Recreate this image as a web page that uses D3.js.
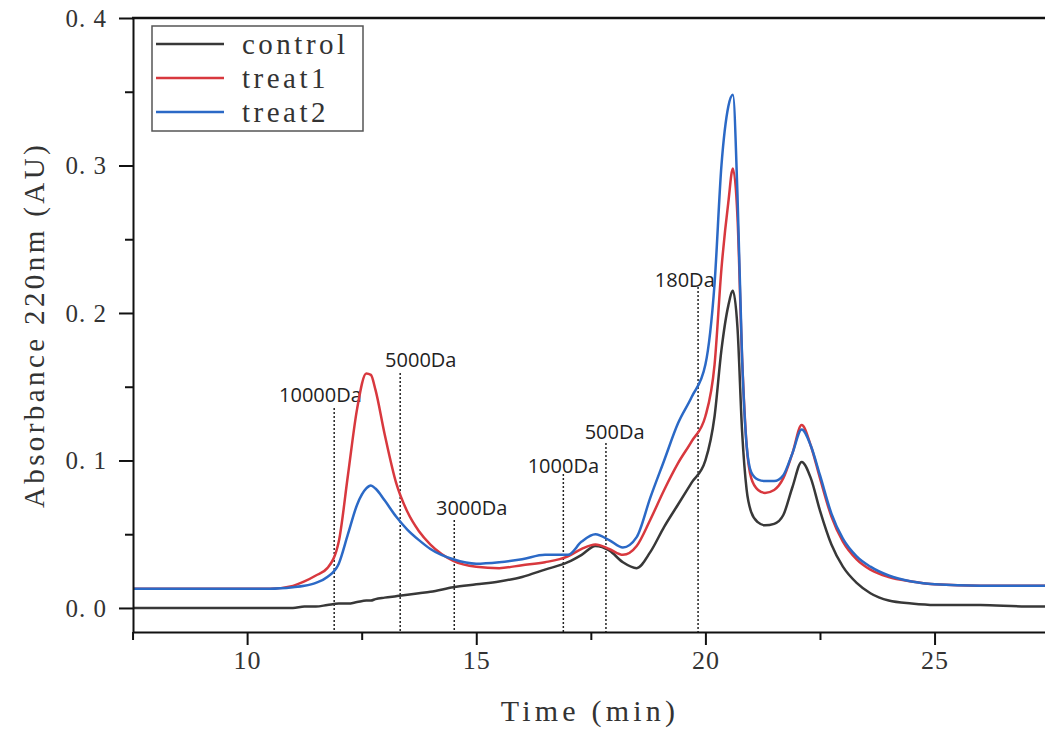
<!DOCTYPE html>
<html>
<head>
<meta charset="utf-8">
<script src="https://cdn.jsdelivr.net/npm/d3@7"></script>
<style>
	body { margin: 0; background: #fff; }
	svg { display: block; }
	.serif { font-family: 'Liberation Serif', 'DejaVu Serif', serif; fill: #333; }
	.da { font-family: 'Open Sans', sans-serif; font-size: 20px; fill: #222; }
	.axis path, .axis line { stroke: #111; stroke-width: 2px; }
</style>
</head>
<body>
<div id="chart"></div>
<script>
// retention time (min)
const times = [7.5, 8, 9, 10, 10.5, 11, 11.25, 11.5, 11.75, 12, 12.2, 12.4, 12.6, 12.7, 12.8, 13, 13.25, 13.5, 13.75, 14,
	14.5, 15, 15.5, 16, 16.5, 17, 17.3, 17.6, 17.9, 18.2, 18.5, 18.8, 19.1, 19.4, 19.7, 20, 20.2, 20.35, 20.5, 20.6,
	20.7, 20.8, 20.9, 21, 21.15, 21.3, 21.5, 21.7, 21.9, 22.1, 22.3, 22.5, 22.75, 23, 23.3, 23.6, 24, 24.5, 25, 26, 27, 27.5];

const control = [0.000, 0.000, 0.000, 0.000, 0.000, 0.000, 0.001, 0.001, 0.002, 0.003, 0.003, 0.004, 0.005, 0.005, 0.006, 0.007, 0.008, 0.009, 0.010, 0.011,
	0.014, 0.016, 0.018, 0.021, 0.026, 0.031, 0.036, 0.042, 0.039, 0.031, 0.027, 0.038, 0.055, 0.070, 0.085, 0.100, 0.130, 0.175, 0.205, 0.215,
	0.190, 0.120, 0.080, 0.065, 0.058, 0.056, 0.057, 0.063, 0.082, 0.099, 0.088, 0.066, 0.043, 0.028, 0.017, 0.010, 0.005, 0.003, 0.002, 0.002, 0.001, 0.001];

const treat1 = [0.013, 0.013, 0.013, 0.013, 0.013, 0.015, 0.018, 0.022, 0.027, 0.045, 0.090, 0.135, 0.159, 0.158, 0.148, 0.118, 0.085, 0.065, 0.052, 0.043,
	0.032, 0.028, 0.027, 0.029, 0.031, 0.035, 0.040, 0.043, 0.040, 0.036, 0.042, 0.060, 0.080, 0.098, 0.113, 0.130, 0.165, 0.230, 0.275, 0.298,
	0.265, 0.170, 0.110, 0.088, 0.080, 0.078, 0.080, 0.088, 0.105, 0.124, 0.110, 0.088, 0.062, 0.045, 0.033, 0.026, 0.021, 0.018, 0.016, 0.015, 0.015, 0.015];

const treat2 = [0.013, 0.013, 0.013, 0.013, 0.013, 0.014, 0.015, 0.017, 0.021, 0.030, 0.050, 0.070, 0.081, 0.083, 0.081, 0.073, 0.062, 0.053, 0.046, 0.040,
	0.033, 0.030, 0.031, 0.033, 0.036, 0.036, 0.045, 0.050, 0.046, 0.041, 0.048, 0.075, 0.100, 0.125, 0.143, 0.165, 0.220, 0.300, 0.340, 0.348,
	0.280, 0.170, 0.110, 0.092, 0.087, 0.086, 0.086, 0.090, 0.105, 0.121, 0.110, 0.090, 0.064, 0.047, 0.035, 0.028, 0.022, 0.018, 0.016, 0.015, 0.015, 0.015];

const seriesNames = ['control', 'treat1', 'treat2'];
const seriesColors = ['#383838', '#d8383e', '#2b69c6'];

const xTicks = [10, 15, 20, 25];
const xMinorTicks = [7.5, 12.5, 17.5, 22.5];
const yTicks = [0, 0.1, 0.2, 0.3, 0.4];
const yMinorTicks = [0.05, 0.15, 0.25, 0.35];

// molecular weight markers
const daLabels = ['10000Da', '5000Da', '3000Da', '1000Da', '500Da', '180Da'];
const daTimes = [11.9, 13.34, 14.52, 16.9, 17.83, 19.84];
const daTops = [0.1356, 0.1593, 0.0597, 0.0908, 0.1119, 0.2176];
const daLabelTimes = [11.6, 13.79, 14.9, 16.9, 18.02, 19.55];
const daLabelLevels = [0.1397, 0.1634, 0.0631, 0.0915, 0.1146, 0.2176];

const width = 1045;
const height = 731;
const plot = {left: 133, right: 1045, top: 18, bottom: 632};

const svg = d3.select('#chart').append('svg')
	.attr('width', width)
	.attr('height', height);

const x = d3.scaleLinear()
	.domain([7.51, 27.41])
	.range([plot.left, plot.right]);

const y = d3.scaleLinear()
	.domain([-0.0163, 0.4])
	.range([plot.bottom, plot.top]);

svg.append('clipPath')
	.attr('id', 'clip')
	.append('rect')
	.attr('x', plot.left)
	.attr('y', plot.top)
	.attr('width', plot.right - plot.left)
	.attr('height', plot.bottom - plot.top);

// dotted marker lines + labels
const markers = svg.append('g');
daLabels.forEach((label, i) => {
	markers.append('line')
		.attr('x1', x(daTimes[i])).attr('x2', x(daTimes[i]))
		.attr('y1', y(daTops[i])).attr('y2', plot.bottom)
		.attr('stroke', '#222')
		.attr('stroke-width', 1.5)
		.attr('stroke-dasharray', '2,2');
	markers.append('text')
		.attr('class', 'da')
		.attr('x', x(daLabelTimes[i]))
		.attr('y', y(daLabelLevels[i]))
		.attr('text-anchor', 'middle')
		.text(label);
});

// curves
const allSeries = [control, treat1, treat2];
const line = d3.line()
	.x((d, i) => x(times[i]))
	.y(d => y(d))
	.curve(d3.curveMonotoneX);

svg.append('g')
	.attr('clip-path', 'url(#clip)')
	.selectAll('path')
	.data(allSeries)
	.enter()
	.append('path')
	.attr('fill', 'none')
	.attr('stroke', (d, i) => seriesColors[i])
	.attr('stroke-width', 2.5)
	.attr('stroke-linejoin', 'round')
	.attr('d', line);

// axes
const fmtY = d => d.toFixed(1).replace('.', '.\u00a0');

svg.append('g')
	.attr('class', 'axis')
	.attr('transform', `translate(0,${plot.bottom})`)
	.call(d3.axisBottom(x).tickValues(xTicks).tickSize(13).tickSizeOuter(0).tickPadding(6))
	.call(g => g.selectAll('text').attr('class', 'serif').style('font-size', '26px').style('letter-spacing', '1px').attr('fill', '#333'));

svg.append('g')
	.attr('class', 'axis')
	.attr('transform', `translate(0,${plot.bottom})`)
	.call(d3.axisBottom(x).tickValues(xMinorTicks).tickSize(8).tickSizeOuter(0).tickFormat(''))
	.call(g => g.select('.domain').remove());

svg.append('g')
	.attr('class', 'axis')
	.attr('transform', `translate(${plot.left},0)`)
	.call(d3.axisLeft(y).tickValues(yTicks).tickSize(14).tickSizeOuter(0).tickPadding(12).tickFormat(fmtY))
	.call(g => g.selectAll('text').attr('class', 'serif').style('font-size', '25px').style('letter-spacing', '1px').attr('fill', '#333').attr('dy', '0.34em'));

svg.append('g')
	.attr('class', 'axis')
	.attr('transform', `translate(${plot.left},0)`)
	.call(d3.axisLeft(y).tickValues(yMinorTicks).tickSize(8).tickSizeOuter(0).tickFormat(''))
	.call(g => g.select('.domain').remove());

// top frame line
svg.append('line')
	.attr('x1', plot.left - 1).attr('x2', plot.right)
	.attr('y1', plot.top).attr('y2', plot.top)
	.attr('stroke', '#111')
	.attr('stroke-width', 2.5);

// axis titles
svg.append('text')
	.attr('class', 'serif')
	.attr('x', 590)
	.attr('y', 721)
	.attr('text-anchor', 'middle')
	.style('font-size', '30px')
	.style('letter-spacing', '4.2px')
	.text('Time (min)');

svg.append('text')
	.attr('class', 'serif')
	.attr('transform', 'translate(44,325) rotate(-90)')
	.attr('text-anchor', 'middle')
	.style('font-size', '29px')
	.style('letter-spacing', '3.4px')
	.text('Absorbance 220nm (AU)');

// legend
const legend = svg.append('g');
legend.append('rect')
	.attr('x', 152).attr('y', 26)
	.attr('width', 211).attr('height', 105)
	.attr('fill', '#fff')
	.attr('stroke', '#555')
	.attr('stroke-width', 1.5);

const rowY = d3.scalePoint().domain(seriesNames).range([44, 112]);
seriesNames.forEach((name, i) => {
	legend.append('line')
		.attr('x1', 156).attr('x2', 224)
		.attr('y1', rowY(name)).attr('y2', rowY(name))
		.attr('stroke', seriesColors[i])
		.attr('stroke-width', 2.5);
	legend.append('text')
		.attr('class', 'serif')
		.attr('x', 242)
		.attr('y', rowY(name) + 10)
		.style('font-size', '29px')
		.style('letter-spacing', '3.5px')
		.text(name);
});
</script>
</body>
</html>
